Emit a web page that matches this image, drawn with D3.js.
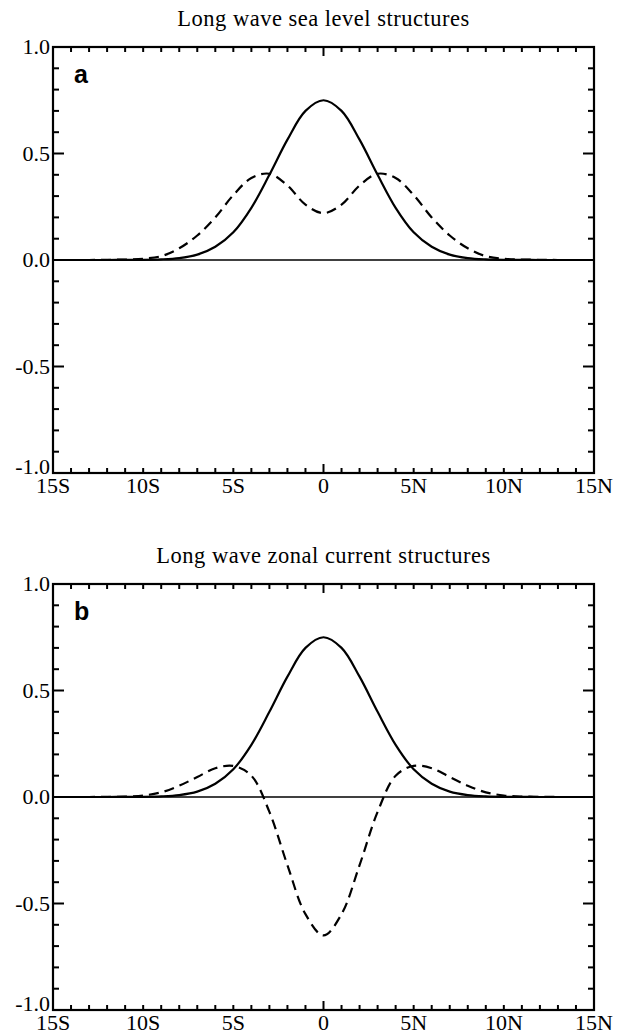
<!DOCTYPE html>
<html>
<head>
<meta charset="utf-8">
<script src="https://cdn.jsdelivr.net/npm/d3@7"></script>
<style>
  body { margin: 0; background: #fff; }
  svg { display: block; }
  .title, .tick-label { font-family: "Liberation Serif", "Times New Roman", serif; fill: #000; }
  .panel-tag { font-family: "Liberation Sans", Arial, sans-serif; font-weight: bold; fill: #000; }
</style>
</head>
<body>
<div id="chart"></div>
<script>
// latitude in degrees (negative = south), 1 degree steps
var lat = d3.range(-15, 16);

// panel a: long wave sea level structures
var seaKelvin = [0, 0, 0, 0, 0.001, 0.001, 0.003, 0.009, 0.025, 0.062, 0.13, 0.245, 0.40, 0.565, 0.70, 0.75,
                 0.70, 0.565, 0.40, 0.245, 0.13, 0.062, 0.025, 0.009, 0.003, 0.001, 0.001, 0, 0, 0, 0];
var seaRossby = [0, 0, 0, 0.001, 0.002, 0.006, 0.018, 0.055, 0.115, 0.20, 0.305, 0.385, 0.405, 0.35, 0.26, 0.22,
                 0.26, 0.35, 0.405, 0.385, 0.305, 0.20, 0.115, 0.055, 0.018, 0.006, 0.002, 0.001, 0, 0, 0];

// panel b: long wave zonal current structures
var curKelvin = seaKelvin.slice();
var curRossby = [0, 0, 0, 0.001, 0.002, 0.007, 0.022, 0.053, 0.094, 0.135, 0.146, 0.10, -0.07, -0.32, -0.55, -0.65,
                 -0.55, -0.32, -0.07, 0.10, 0.146, 0.135, 0.094, 0.053, 0.022, 0.007, 0.002, 0.001, 0, 0, 0];

var xTickVals = [-15, -10, -5, 0, 5, 10, 15];
var xTickText = ["15S", "10S", "5S", "0", "5N", "10N", "15N"];
var yTickVals = [-1, -0.5, 0, 0.5, 1];
var yTickText = ["-1.0", "-0.5", "0.0", "0.5", "1.0"];

var panels = [
  {tag: "a", title: "Long wave sea level structures", solid: seaKelvin, dashed: seaRossby, top: 47},
  {tag: "b", title: "Long wave zonal current structures", solid: curKelvin, dashed: curRossby, top: 584}
];

var W = 622, H = 1035;
var left = 53, right = 594, plotH = 426;

var svg = d3.select("#chart").append("svg")
    .attr("width", W)
    .attr("height", H);

var x = d3.scaleLinear().domain([-15, 15]).range([left, right]);

panels.forEach(function(p) {
  var y = d3.scaleLinear().domain([-1, 1]).range([p.top + plotH, p.top]);
  var g = svg.append("g");

  // title
  g.append("text")
    .attr("class", "title")
    .attr("x", (left + right) / 2)
    .attr("y", p.top - 21)
    .attr("text-anchor", "middle")
    .style("font-size", "22.5px")
    .style("letter-spacing", "0.5px")
    .text(p.title);

  // zero line
  g.append("line")
    .attr("x1", left).attr("x2", right)
    .attr("y1", y(0)).attr("y2", y(0))
    .attr("stroke", "#000").attr("stroke-width", 1.3);

  // minor/major ticks, pointing inward
  var xMinor = d3.range(-14, 15);
  xMinor.forEach(function(v) {
    var len = v === 0 ? 9 : 5;
    g.append("line").attr("x1", x(v)).attr("x2", x(v))
      .attr("y1", y(-1)).attr("y2", y(-1) - len)
      .attr("stroke", "#000").attr("stroke-width", 2);
    g.append("line").attr("x1", x(v)).attr("x2", x(v))
      .attr("y1", y(1)).attr("y2", y(1) + len)
      .attr("stroke", "#000").attr("stroke-width", 2);
  });
  var yMinor = d3.range(-9, 10).map(function(i) { return i / 10; });
  yMinor.forEach(function(v) {
    var len = (Math.abs(v) === 0.5 || v === 0) ? 11 : 6;
    g.append("line").attr("x1", left).attr("x2", left + len)
      .attr("y1", y(v)).attr("y2", y(v))
      .attr("stroke", "#000").attr("stroke-width", 2);
    g.append("line").attr("x1", right).attr("x2", right - len)
      .attr("y1", y(v)).attr("y2", y(v))
      .attr("stroke", "#000").attr("stroke-width", 2);
  });

  // curves
  var line = d3.line()
    .x(function(d, i) { return x(lat[i]); })
    .y(function(d) { return y(d); })
    .curve(d3.curveCatmullRom);

  g.append("path")
    .datum(p.solid)
    .attr("d", line)
    .attr("fill", "none")
    .attr("stroke", "#000")
    .attr("stroke-width", 2.2);

  g.append("path")
    .datum(p.dashed)
    .attr("d", line)
    .attr("fill", "none")
    .attr("stroke", "#000")
    .attr("stroke-width", 2.2)
    .attr("stroke-dasharray", "10,6");

  // frame
  g.append("rect")
    .attr("x", left).attr("y", p.top)
    .attr("width", right - left).attr("height", plotH)
    .attr("fill", "none").attr("stroke", "#000").attr("stroke-width", 2.2);

  // tick labels
  g.selectAll(".xl").data(xTickVals).enter().append("text")
    .attr("class", "tick-label")
    .attr("x", function(d) { return x(d); })
    .attr("y", y(-1) + 20)
    .attr("text-anchor", "middle")
    .style("font-size", "22px")
    .text(function(d, i) { return xTickText[i]; });

  g.selectAll(".yl").data(yTickVals).enter().append("text")
    .attr("class", "tick-label")
    .attr("x", left - 3)
    .attr("y", function(d) { return d === -1 ? y(d) + 1 : y(d) + 7; })
    .attr("text-anchor", "end")
    .style("font-size", "22px")
    .text(function(d, i) { return yTickText[i]; });

  // panel tag
  g.append("text")
    .attr("class", "panel-tag")
    .attr("x", 74)
    .attr("y", p.top + 36)
    .style("font-size", "25px")
    .text(p.tag);
});
</script>
</body>
</html>
